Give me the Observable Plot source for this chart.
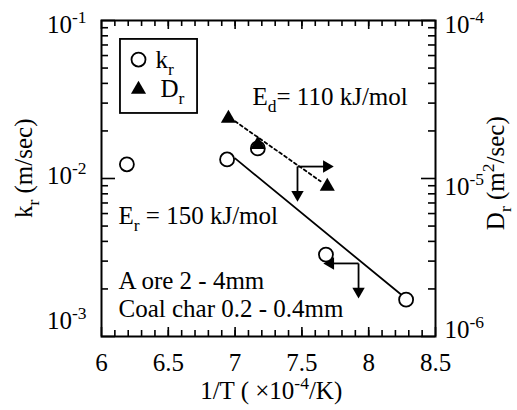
<!DOCTYPE html>
<html><head><meta charset="utf-8">
<script src="https://cdn.jsdelivr.net/npm/d3@7"></script>
<script src="https://cdn.jsdelivr.net/npm/@observablehq/plot@0.6"></script>
<style>
body{margin:0;background:#fff;}
#chart{width:517px;height:410px;}
#chart svg, #chart svg text, #chart svg tspan{font-family:"Liberation Serif","DejaVu Serif","Noto Serif",Times,serif !important;}
</style></head><body><div id="chart"></div>
<script>
// ---- data ----
// k_r, open circles (left axis, m/sec)
const kX = [6.19, 6.94, 7.17, 7.68, 8.28];
const kR = [0.0123, 0.0132, 0.0155, 0.0033, 0.00171];
// D_r, filled triangles (right axis, m^2/sec)
const dX = [6.95, 7.17, 7.69];
const dR = [2.40e-5, 1.64e-5, 8.9e-6];
// Arrhenius fit lines
const fitKX = [7.00, 8.24];
const fitKY = [0.0134, 0.00185];
const fitDX = [7.00, 7.64];
const fitDY = [2.30e-5, 9.6e-6];
// arrows on the D_r line (D units) and on the k_r line (k units)
const arrDX1 = [7.467, 7.467], arrDY1 = [1.19e-5, 1.19e-5];
const arrDX2 = [7.685, 7.467], arrDY2 = [1.19e-5, 7.9e-6];
const arrDDir = ["right", "down"];
const arrKX1 = [7.924, 7.924], arrKY1 = [0.0029, 0.0029];
const arrKX2 = [7.714, 7.924], arrKY2 = [0.0029, 0.00193];
const arrKDir = ["left", "down"];
// axis ticks & labels
const xTicks = [6, 6.5, 7, 7.5, 8, 8.5];
const xTickLabels = ["6", "6.5", "7", "7.5", "8", "8.5"];
const xMinor = d3.range(61, 85).map(v => v / 10);
const kTicks = [1e-1, 1e-2, 1e-3];
const kTickLabels = ["10^{-1}", "10^{-2}", "10^{-3}"];
const dTicks = [1e-4, 1e-5, 1e-6];
const dTickLabels = ["10^{-4}", "10^{-5}", "10^{-6}"];
const yMinor = [1e-3, 1e-2].flatMap(b => [2,3,4,5,6,7,8,9].map(m => m * b));
// annotations
const annX = [7.13, 6.127, 6.127, 6.127];
const annY = [0.033, 0.00575, 0.00223, 0.0015];
const annText = ["E_{d}= 110 kJ/mol", "E_{r} = 150 kJ/mol", "A ore 2 - 4mm", "Coal char 0.2 - 0.4mm"];
const xTitle = "1/T ( ×10^{-4}/K)";
const kTitle = "k_{r} (m/sec)";
const dTitle = "D_{r} (m^{2}/sec)";
// legend (box corners, symbol and label anchors in data units)
const legendLabels = ["k_{r}", "D_{r}"];
const legBoxX = [6.142, 6.719], legBoxY = [0.0759, 0.0258];
const legSymX = 6.277, legSymY = [0.0566, 0.0366];
const legTextX = [6.404, 6.442], legTextY = [0.0561, 0.0366];

const D2K = 1000; // right axis = left axis × 10^-3
const W = 517, H = 410, ML = 101, MR = 82, MT = 20, MB = 74;
const FW = W - ML - MR, FH = H - MT - MB;
const FS = 25;
const FONT = "'Liberation Serif', 'DejaVu Serif', 'Noto Serif', Times, serif";

const idx = a => a.map((_, i) => i);
const headRot = {right: 90, down: 180, left: -90};
const T = o => ({fontSize: FS, fontFamily: FONT, fill: "black", lineAnchor: "middle", ...o});

const marks = [];
// ticks (inward)
marks.push(Plot.ruleX(xMinor, {x: d => d, insetTop: FH - 6, strokeWidth: 1.6}));
marks.push(Plot.ruleX(xMinor, {x: d => d, insetBottom: FH - 6, strokeWidth: 1.6}));
marks.push(Plot.ruleX(xTicks, {x: d => d, insetTop: FH - 9, strokeWidth: 1.6}));
marks.push(Plot.ruleX(xTicks, {x: d => d, insetBottom: FH - 9, strokeWidth: 1.6}));
marks.push(Plot.ruleY(yMinor, {y: d => d, insetRight: FW - 7, strokeWidth: 1.6}));
marks.push(Plot.ruleY(yMinor, {y: d => d, insetLeft: FW - 7, strokeWidth: 1.6}));
marks.push(Plot.ruleY(kTicks, {y: d => d, insetRight: FW - 14, strokeWidth: 1.6}));
marks.push(Plot.ruleY(kTicks, {y: d => d, insetLeft: FW - 14, strokeWidth: 1.6}));
marks.push(Plot.frame({strokeWidth: 2}));

// tick labels
marks.push(Plot.text(xTicks, T({x: d => d, y: () => 1e-3, text: xTickLabels, textAnchor: "middle", dy: 26})));
const leftDy = [4, -3, -16], rightDy = [4, 8, -7];
kTicks.forEach((t, i) => marks.push(Plot.text([t], T({x: () => 6, y: d => d, text: [kTickLabels[i]], textAnchor: "end", dx: -15, dy: leftDy[i]}))));
dTicks.forEach((t, i) => marks.push(Plot.text([t], T({x: () => 8.5, y: d => d * D2K, text: [dTickLabels[i]], textAnchor: "start", dx: 9, dy: rightDy[i]}))));

// axis titles
marks.push(Plot.text([xTitle], T({x: () => 7.27, y: () => 1e-3, text: d => d, textAnchor: "middle", dy: 54})));
marks.push(Plot.text([kTitle], T({x: () => 6, y: () => 0.0116, text: d => d, textAnchor: "middle", dx: -78, rotate: -90})));
marks.push(Plot.text([dTitle], T({x: () => 8.5, y: () => 0.0108, text: d => d, textAnchor: "middle", dx: 60, rotate: -90})));

// fit lines
marks.push(Plot.line(idx(fitKX), {x: i => fitKX[i], y: i => fitKY[i], stroke: "black", strokeWidth: 1.8}));
marks.push(Plot.line(idx(fitDX), {x: i => fitDX[i], y: i => fitDY[i] * D2K, stroke: "black", strokeWidth: 1.8, strokeDasharray: "3,3"}));

// arrows
marks.push(Plot.link(idx(arrDX1), {x1: i => arrDX1[i], y1: i => arrDY1[i] * D2K, x2: i => arrDX2[i], y2: i => arrDY2[i] * D2K, stroke: "black", strokeWidth: 1.8}));
marks.push(Plot.link(idx(arrKX1), {x1: i => arrKX1[i], y1: i => arrKY1[i], x2: i => arrKX2[i], y2: i => arrKY2[i], stroke: "black", strokeWidth: 1.8}));
["right", "down", "left"].forEach(dir => {
  marks.push(Plot.dot(idx(arrDX2).filter(i => arrDDir[i] === dir), {x: i => arrDX2[i], y: i => arrDY2[i] * D2K, symbol: "triangle", r: 4.6, fill: "black", rotate: headRot[dir]}));
  marks.push(Plot.dot(idx(arrKX2).filter(i => arrKDir[i] === dir), {x: i => arrKX2[i], y: i => arrKY2[i], symbol: "triangle", r: 4.6, fill: "black", rotate: headRot[dir]}));
});

// data points
marks.push(Plot.dot(idx(kX), {x: i => kX[i], y: i => kR[i], r: 7, fill: "white", stroke: "black", strokeWidth: 1.8}));
marks.push(Plot.dot(idx(dX), {x: i => dX[i], y: i => dR[i] * D2K, symbol: "triangle", r: 5.6, fill: "black"}));

// annotations
marks.push(Plot.text(idx(annX), T({x: i => annX[i], y: i => annY[i], text: i => annText[i], textAnchor: "start"})));

// legend
marks.push(Plot.rect([0], {x1: () => legBoxX[0], x2: () => legBoxX[1], y1: () => legBoxY[0], y2: () => legBoxY[1], fill: "none", stroke: "black", strokeWidth: 1.8}));
marks.push(Plot.dot([0], {x: () => legSymX, y: () => legSymY[0], r: 7, fill: "white", stroke: "black", strokeWidth: 1.8}));
marks.push(Plot.dot([0], {x: () => legSymX, y: () => legSymY[1], r: 5.6, symbol: "triangle", fill: "black"}));
marks.push(Plot.text(idx(legendLabels), T({x: i => legTextX[i], y: i => legTextY[i], text: i => legendLabels[i], textAnchor: "start"})));

const chart = Plot.plot({
  width: W, height: H,
  marginLeft: ML, marginRight: MR, marginTop: MT, marginBottom: MB,
  x: {domain: [6, 8.5], axis: null},
  y: {type: "log", domain: [1e-3, 1e-1], axis: null},
  style: "font-family: 'Liberation Serif', 'DejaVu Serif', serif; font-size: 25px; background: white; color: black; overflow: visible;",
  marks
});
document.getElementById("chart").appendChild(chart);

// rich text: ^{..} superscripts, _{..} subscripts
function richify(root) {
  root.querySelectorAll("text").forEach(t => {
    if (t.querySelector("tspan")) return;
    const s = t.textContent;
    if (!/[\^_]\{/.test(s)) return;
    const fs = parseFloat(getComputedStyle(t).fontSize) || FS;
    t.textContent = "";
    const re = /([\^_])\{([^}]*)\}|([^\^_]+)/g;
    let m, shift = 0;
    while ((m = re.exec(s))) {
      const ts = document.createElementNS("http://www.w3.org/2000/svg", "tspan");
      if (m[1]) {
        const d = m[1] === "^" ? -0.4 * fs : 0.28 * fs;
        ts.setAttribute("dy", d - shift); shift = d;
        ts.setAttribute("font-size", 0.7 * fs);
        ts.textContent = m[2];
      } else {
        if (shift !== 0) ts.setAttribute("dy", -shift);
        shift = 0;
        ts.textContent = m[3];
      }
      t.appendChild(ts);
    }
  });
}
richify(chart);
</script></body></html>
